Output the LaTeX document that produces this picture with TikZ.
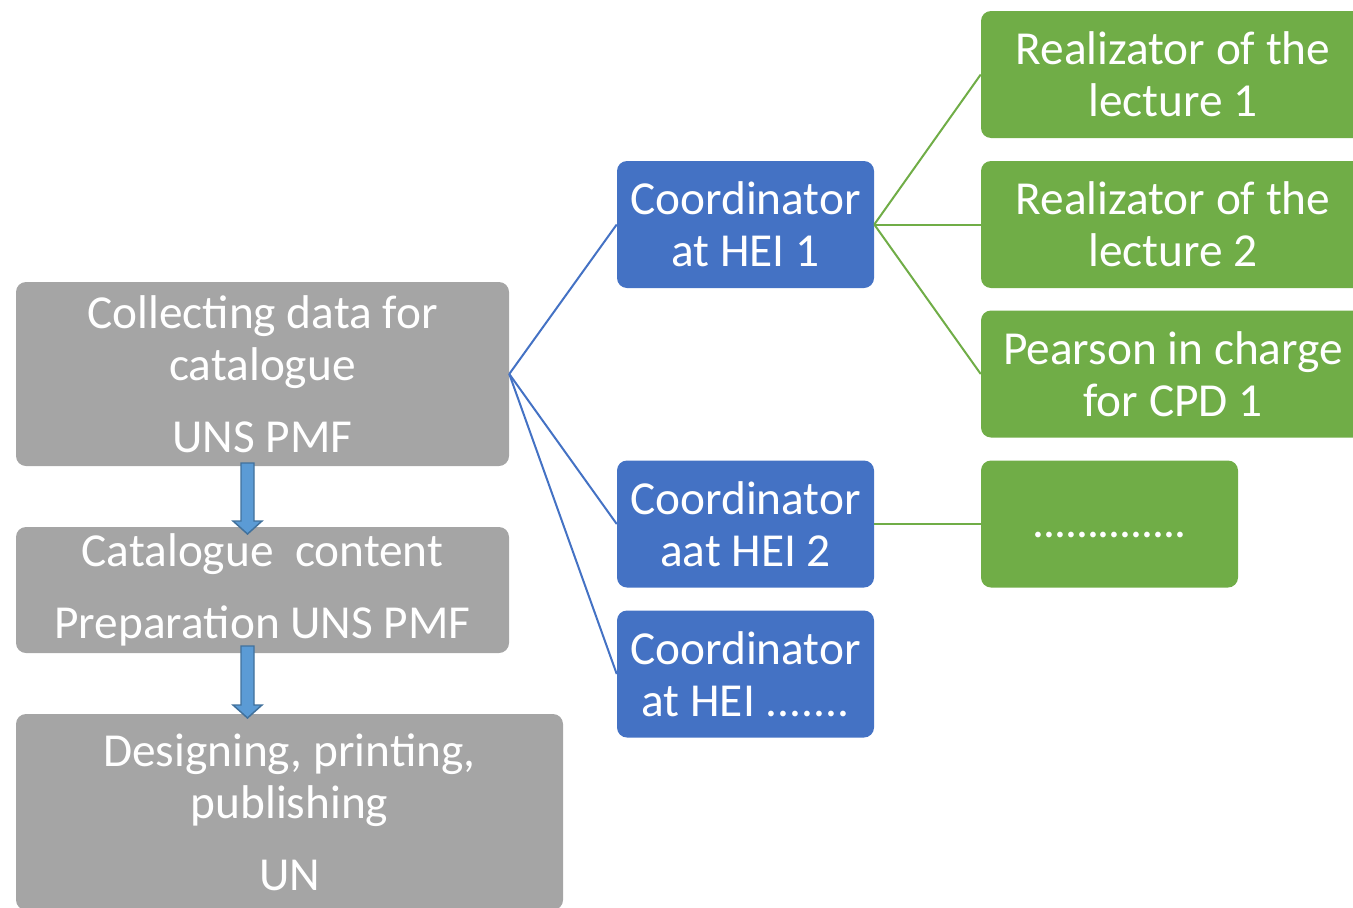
\documentclass[tikz,border=0pt]{standalone}
\usepackage{fontspec}
\setmainfont{Carlito}

\definecolor{stagegray}{HTML}{A5A5A5}
\definecolor{heiblue}{HTML}{4472C4}
\definecolor{taskgreen}{HTML}{70AD47}
\definecolor{arrowfill}{HTML}{5B9BD5}
\definecolor{arrowline}{HTML}{41719C}

\tikzset{
  box/.style={rounded corners=7.5pt, text=white, align=center, inner sep=0pt,
    font=\fontsize{35.5}{39}\selectfont},
  stage/.style={box, fill=stagegray, minimum width=369.75pt},
  hei/.style={box, fill=heiblue, minimum width=192.75pt, minimum height=95.25pt},
  task/.style={box, fill=taskgreen, minimum width=288pt, minimum height=95.25pt},
  heilink/.style={heiblue, line width=1.5pt},
  tasklink/.style={taskgreen, line width=1.5pt},
  blockarrow/.style={fill=arrowfill, draw=arrowline, line width=1.1pt, line join=miter},
}

\begin{document}
\begin{tikzpicture}[x=0.75pt, y=-0.75pt]
    \useasboundingbox (0,0) rectangle (1353,907);
    \clip (0,0) rectangle (1353,907);
    % stages on the left
    \node [stage, minimum height=138pt]  (collect) at (262.5,374) {Collecting data for\\catalogue\\[15pt]UNS PMF};
    \node [stage, minimum height=94.5pt] (content) at (262.5,590) {Catalogue\ \ content\\[15pt]Preparation UNS PMF};
    \node [stage, minimum width=410.25pt, minimum height=147pt] (design) at (289.5,812) {Designing, printing,\\publishing\\[15pt]UN};
    % coordinators
    \node [hei] (hei1) at (745.5,224.5) {Coordinator\\at HEI 1};
    \node [hei] (hei2) at (745.5,524)   {Coordinator\\aat HEI 2};
    \node [hei] (hei3) at (745.5,674)   {Coordinator\\at HEI .......};
    % people at HEI 1 and 2
    \node [task] (lect1) at (1173,74.5)  {Realizator of the\\lecture 1};
    \node [task] (lect2) at (1173,224.5) {Realizator of the\\lecture 2};
    \node [task] (cpd1)  at (1173,374)   {Pearson in charge\\for CPD 1};
    \node [task, minimum width=192.75pt] (more) at (1109.5,524)
        {\raisebox{-10pt}[0pt][0pt]{.\kern-.8pt.\kern-.8pt.\kern-.8pt.\kern-.8pt.\kern-.8pt.\kern-.8pt.\kern-.8pt.\kern-.8pt.\kern-.8pt.\kern-.8pt.\kern-.8pt.\kern-.8pt.\kern-.8pt.}};
    % links
    \draw [heilink] (collect.east) -- (hei1.west);
    \draw [heilink] (collect.east) -- (hei2.west);
    \draw [heilink] (collect.east) -- (hei3.west);
    \draw [tasklink] (hei1.east) -- (lect1.west);
    \draw [tasklink] (hei1.east) -- (lect2.west);
    \draw [tasklink] (hei1.east) -- (cpd1.west);
    \draw [tasklink] (hei2.east) -- (more.west);
    % block arrows between stages
    \coordinate (a1top) at (247.5,463);
    \coordinate (a1tip) at (247.5,534);
    \coordinate (a2top) at (247.5,646);
    \coordinate (a2tip) at (247.5,718);
    \draw [blockarrow] (a1top) ++(-6.5,0) -- ++(0,58) -- ++(-8,0) -- (a1tip)
        -- ++(14.5,-13) -- ++(-8,0) -- ++(0,-58) -- cycle;
    \draw [blockarrow] (a2top) ++(-6.5,0) -- ++(0,59) -- ++(-8,0) -- (a2tip)
        -- ++(14.5,-13) -- ++(-8,0) -- ++(0,-59) -- cycle;
\end{tikzpicture}
\end{document}
